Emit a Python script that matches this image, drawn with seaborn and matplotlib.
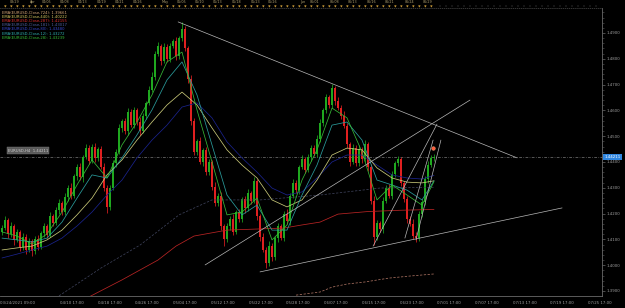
import numpy as np
import pandas as pd
import matplotlib
matplotlib.use("Agg")
import matplotlib.pyplot as plt
import matplotlib.transforms as mtransforms
from matplotlib.ticker import MultipleLocator
import seaborn as sns

# ---------------- data ----------------
closes = [
    1.4144, 1.4175, 1.4120, 1.4150, 1.4098, 1.4130, 1.4070, 1.4110, 1.4060, 1.4095,
    1.4055, 1.4100, 1.4070, 1.4125, 1.4150, 1.4118, 1.4190, 1.4165, 1.4215, 1.4240,
    1.4205, 1.4265, 1.4300, 1.4270, 1.4345, 1.4380, 1.4340, 1.4420, 1.4455, 1.4405,
    1.4460, 1.4415, 1.4450, 1.4380, 1.4300, 1.4225, 1.4300, 1.4395, 1.4440, 1.4530,
    1.4560, 1.4520, 1.4595, 1.4545, 1.4600, 1.4555, 1.4520, 1.4580, 1.4630, 1.4680,
    1.4730, 1.4820, 1.4850, 1.4790, 1.4845, 1.4800, 1.4850, 1.4870, 1.4810, 1.4880,
    1.4915, 1.4840, 1.4720, 1.4560, 1.4440, 1.4480, 1.4400, 1.4445, 1.4360, 1.4400,
    1.4305, 1.4240, 1.4270, 1.4150, 1.4100, 1.4150, 1.4180, 1.4130, 1.4205, 1.4180,
    1.4255, 1.4220, 1.4280, 1.4250, 1.4325, 1.4190, 1.4110, 1.4060, 1.4010, 1.4075,
    1.4030, 1.4105, 1.4150, 1.4105, 1.4200, 1.4170, 1.4270, 1.4320, 1.4290, 1.4380,
    1.4410, 1.4370, 1.4420, 1.4455, 1.4430, 1.4490, 1.4550, 1.4600, 1.4650, 1.4620,
    1.4685, 1.4635, 1.4610, 1.4580, 1.4540, 1.4470, 1.4400, 1.4455, 1.4395, 1.4450,
    1.4410, 1.4470, 1.4380, 1.4250, 1.4110, 1.4165, 1.4140, 1.4250, 1.4300, 1.4270,
    1.4355, 1.4395, 1.4410, 1.4320, 1.4255, 1.4180, 1.4160, 1.4115, 1.4105, 1.4200,
    1.4245, 1.4335, 1.4390, 1.4415, 1.4421,
]
first_open = 1.4129
wick_up_pips = [
    10, 14, 7, 18, 9, 12, 6, 15, 10, 11,
    8, 14, 17, 9, 12, 10, 18, 7, 11, 15,
    9, 14, 10, 19, 7, 12, 16, 9, 14, 11,
    10, 15, 8, 12, 18, 10, 9, 14, 11, 16,
    8, 12, 15, 10, 14, 9, 18, 11, 8, 15,
    20, 10, 14, 9, 16, 11, 12, 8, 15, 10,
    27, 14, 9, 18, 12, 10, 15, 8, 14, 11,
    9, 16, 10, 12, 8, 15, 11, 18, 9, 14,
    10, 12, 16, 8, 15, 11, 9, 14, 10, 18,
    12, 8, 15, 11, 10, 16, 9, 14, 12, 8,
    18, 10, 12, 11, 9, 14, 16, 10, 12, 8,
    19, 9, 15, 10, 18, 12, 8, 14, 11, 16,
    10, 15, 9, 12, 18, 11, 8, 14, 10, 16,
    12, 9, 15, 11, 8, 14, 10, 18, 12, 9,
    11, 10, 14, 12, 9,
]
wick_dn_pips = [
    12, 9, 15, 10, 18, 8, 14, 11, 16, 9,
    20, 10, 12, 9, 15, 11, 8, 14, 10, 16,
    11, 9, 15, 12, 8, 14, 10, 18, 9, 12,
    10, 15, 11, 9, 14, 24, 12, 10, 15, 8,
    14, 10, 16, 9, 12, 11, 15, 8, 14, 10,
    9, 12, 10, 15, 8, 14, 11, 9, 16, 10,
    12, 10, 15, 18, 11, 14, 9, 16, 10, 12,
    15, 11, 9, 14, 27, 10, 15, 12, 8, 14,
    11, 16, 10, 12, 9, 14, 18, 10, 19, 12,
    15, 10, 14, 9, 12, 11, 16, 8, 10, 14,
    9, 12, 10, 15, 8, 11, 14, 9, 12, 10,
    11, 15, 9, 12, 10, 14, 16, 8, 12, 10,
    14, 9, 15, 11, 30, 12, 10, 16, 9, 11,
    12, 15, 10, 14, 11, 18, 9, 12, 15, 10,
    14, 11, 15, 10, 12,
]

# EMA lines sampled every 5 bars (bar index)
ema_bars = [0, 5, 10, 15, 20, 25, 30, 35, 40, 45, 50, 55, 60, 65, 70, 75, 80, 85, 90, 95,
            100, 105, 110, 115, 120, 125, 130, 135, 140, 144]
ema_green = [1.4129, 1.4113, 1.4082, 1.4121, 1.4206, 1.4311, 1.4408, 1.4338, 1.4466, 1.4555,
             1.4660, 1.4788, 1.4826, 1.4602, 1.4400, 1.4195, 1.4206, 1.4260, 1.4098, 1.4156,
             1.4330, 1.4447, 1.4609, 1.4571, 1.4439, 1.4253, 1.4311, 1.4272, 1.4233, 1.4324]
ema_teal = [1.4105, 1.4098, 1.4090, 1.4105, 1.4167, 1.4260, 1.4350, 1.4338, 1.4416, 1.4505,
            1.4602, 1.4718, 1.4788, 1.4660, 1.4466, 1.4272, 1.4195, 1.4233, 1.4136, 1.4136,
            1.4272, 1.4388, 1.4543, 1.4555, 1.4485, 1.4330, 1.4311, 1.4291, 1.4253, 1.4327]
ema_yellow = [1.4059, 1.4067, 1.4074, 1.4098, 1.4136, 1.4195, 1.4260, 1.4350, 1.4408, 1.4485,
              1.4555, 1.4621, 1.4671, 1.4621, 1.4532, 1.4447, 1.4388, 1.4338, 1.4253, 1.4226,
              1.4253, 1.4330, 1.4427, 1.4454, 1.4447, 1.4377, 1.4338, 1.4322, 1.4319, 1.4327]
ema_navy = [1.4028, 1.4043, 1.4059, 1.4074, 1.4105, 1.4152, 1.4206, 1.4272, 1.4330, 1.4416,
            1.4485, 1.4543, 1.4613, 1.4629, 1.4571, 1.4478, 1.4416, 1.4361, 1.4299, 1.4272,
            1.4284, 1.4338, 1.4400, 1.4427, 1.4427, 1.4388, 1.4350, 1.4338, 1.4334, 1.4348]
ema181_bars = [19, 33, 46, 59, 70, 86, 106, 126, 144]
ema181 = [1.3881, 1.3989, 1.4078, 1.4195, 1.4253, 1.4253, 1.4272, 1.4299, 1.4302]
ema287_bars = [29, 40, 52, 58, 64, 75, 94, 100, 106, 112, 122, 133, 144]
ema287 = [1.3877, 1.3943, 1.4020, 1.4074, 1.4113, 1.4136, 1.4144, 1.4156, 1.4167, 1.4198,
          1.4208, 1.4213, 1.4216]
ema724_bars = [98, 106, 110, 115, 121, 129, 136, 144]
ema724 = [1.3884, 1.3896, 1.3915, 1.3927, 1.3935, 1.3950, 1.3958, 1.3966]

# hand-drawn trend lines: (bar0, price0, bar1, price1)
trend_lines = [
    (58.7, 1.4943, 171.7, 1.4416),
    (67.7, 1.4001, 156.0, 1.4640),
    (86.0, 1.3974, 186.7, 1.4222),
    (123.7, 1.4074, 145.0, 1.4547),
    (134.3, 1.4105, 143.7, 1.4485),
    (138.0, 1.4098, 146.3, 1.4485),
]
bid_price = 1.44211
signal_bar, signal_price = 143.7, 1.4456

legend_texts = [
    "EMA(EURUSD,Close,724): 1.39661",
    "EMA(EURUSD,Close,440): 1.40222",
    "EMA(EURUSD,Close,287): 1.42155",
    "EMA(EURUSD,Close,181): 1.43017",
    "EMA(EURUSD,Close,80): 1.43480",
    "EMA(EURUSD,Close,12): 1.43272",
    "EMA(EURUSD,Close,28): 1.43239",
]
legend_colors = ["#d8a878", "#d8c860", "#e03030", "#5060a0", "#3848d0", "#30b0b0", "#38c038"]

bottom_labels = ["04/10 17:00", "04/18 17:00", "04/26 17:00", "05/04 17:00", "05/12 17:00",
                 "05/22 17:00", "05/28 17:00", "06/07 17:00", "06/15 17:00", "06/23 17:00",
                 "07/01 17:00", "07/07 17:00", "07/13 17:00", "07/19 17:00", "07/25 17:00"]
first_label = "03/24/2021 09:00"
top_labels = ["03/29", "Apr", "04/05", "04/08", "04/13", "04/19", "04/21", "04/26", "May",
              "05/05", "05/10", "05/13", "05/18", "05/23", "05/26", "Jun", "06/01", "06/08",
              "06/13", "06/16", "06/21", "06/24", "06/29"]
top_label_px = [15, 33, 47, 65, 83, 102, 120, 138, 165, 182, 200, 218, 237, 256, 273,
                303, 315, 335, 353, 372, 390, 410, 428]
y_ticks = [1.39, 1.40, 1.41, 1.42, 1.43, 1.44, 1.45, 1.46, 1.47, 1.48, 1.49]

# ---------------- style ----------------
sns.set_theme(style="dark", rc={"axes.facecolor": "black", "figure.facecolor": "black",
                                "axes.grid": False})
plt.rcParams["font.family"] = ["DejaVu Sans"]

W, H = 625, 308
fig = plt.figure(figsize=(W / 100, H / 100), dpi=100, facecolor="black")
ax_w = 602
ax = fig.add_axes([0, 12 / H, ax_w / W, 288 / H])
ax.set_facecolor("black")

BAR_PX = 3.0
x_min = -2 / BAR_PX
x_max = (ax_w - 2) / BAR_PX
ax.set_xlim(x_min, x_max)
ax.set_ylim(1.38806, 1.49969)

# candles
c = np.array(closes)
o = np.r_[first_open, c[:-1]]
hi = np.maximum(o, c) + np.array(wick_up_pips) / 1e4
lo = np.minimum(o, c) - np.array(wick_dn_pips) / 1e4
idx = np.arange(len(c))
col = np.where(c >= o, "#1fa81f", "#e02020")
ax.vlines(idx, lo, hi, colors=col, linewidth=0.55, zorder=3)
ax.bar(idx, np.maximum(np.abs(c - o), 0.00012), bottom=np.minimum(o, c), width=0.6,
       color=col, linewidth=0, zorder=3)

# EMA lines via seaborn
def sline(xs, ys, color, ls="-", lw=0.55, z=4):
    df = pd.DataFrame({"bar": xs, "price": ys})
    sns.lineplot(data=df, x="bar", y="price", ax=ax, color=color, linestyle=ls,
                 linewidth=lw, estimator=None, sort=False, zorder=z)

sline(ema724_bars, ema724, "#a87060", ls=(0, (3, 2)))
sline(ema287_bars, ema287, "#b82424")
sline(ema181_bars, ema181, "#3c4058", ls=(0, (3, 2)))
sline(ema_bars, ema_navy, "#1a238c")
sline(ema_bars, ema_yellow, "#c8c878")
sline(ema_bars, ema_teal, "#2a9c9c")
sline(ema_bars, ema_green, "#36b836")

# trend lines
for (b0, p0, b1, p1) in trend_lines:
    ax.plot([b0, b1], [p0, p1], color="#b8b8b8", linewidth=0.5, zorder=5)

# bid line
ax.axhline(bid_price, color="#7a7a7a", linewidth=0.5, linestyle=(0, (4, 2, 1, 2)), zorder=2)
ax.plot([signal_bar], [signal_price], "o", ms=2.6, color="#ff5a3a", mec="#ffb080",
        mew=0.3, zorder=6)

# axes decoration
ax.set_xlabel("")
ax.set_ylabel("")
ax.yaxis.tick_right()
ax.set_yticks(y_ticks)
ax.set_yticklabels([f"{v:.4f}" for v in y_ticks])
ax.yaxis.set_minor_locator(MultipleLocator(0.002))
tick_px = [60 + 37.73 * k for k in range(len(bottom_labels))]
tick_bars = [(p - 2) / BAR_PX for p in tick_px]
ax.set_xticks([x_min + 0.01] + tick_bars)
ax.set_xticklabels([first_label] + bottom_labels, ha="left")
ax.xaxis.set_minor_locator(MultipleLocator(1.4))
ax.tick_params(axis="both", which="major", colors="#6a6a6a", labelcolor="#a0a0a0",
               labelsize=2.8, length=2.2, width=0.5, pad=1.2, direction="out")
ax.tick_params(axis="both", which="minor", colors="#5a5a5a", length=1.2, width=0.4,
               direction="out")
ax.spines["left"].set_visible(False)
for s in ["right", "bottom"]:
    ax.spines[s].set_color("#6a6a6a")
    ax.spines[s].set_linewidth(0.6)
ax.spines["top"].set_color("#4a4a4a")
ax.spines["top"].set_linewidth(0.5)
ax.spines["top"].set_linestyle((0, (1, 2)))

# current price tag
blend = mtransforms.blended_transform_factory(ax.transAxes, ax.transData)
ax.text(1.004, bid_price, f"{bid_price:.5f}", transform=blend, ha="left", va="center",
        fontsize=2.8, color="white", zorder=10,
        bbox=dict(boxstyle="square,pad=0.25", fc="#2f86e0", ec="none"))

# legend text (top-left)
for k, (t, cc) in enumerate(zip(legend_texts, legend_colors)):
    fig.text(2 / W, 1 - (12.5 + 4.25 * k) / H, t, color=cc, fontsize=2.7,
             ha="left", va="center")

# grey label box on the left
fig.text(8 / W, 1 - 150.5 / H, "EURUSD,H4  1.44211", color="#d0d0d0", fontsize=2.7,
         ha="left", va="center",
         bbox=dict(boxstyle="square,pad=0.3", fc="#5a5a5a", ec="#7a7a7a", lw=0.3))

# top time strip (pixel coords)
axt = fig.add_axes([0, 1 - 10 / H, ax_w / W, 10 / H])
axt.set_xlim(0, ax_w)
axt.set_ylim(10, 0)
axt.axis("off")
for lbl, px in zip(top_labels, top_label_px):
    axt.text(px, 1.6, lbl, color="#b0a070", fontsize=2.4, ha="center", va="center")
tri_px = np.arange(5, 437, 6.0)
axt.plot(tri_px, np.full(len(tri_px), 5.6), "v", ms=1.6, color="#c89a38", mew=0)
axt.vlines(tri_px, 4.8, 7.2, color="#c89a38", linewidth=0.35)
rest_px = np.arange(440, 600, 6.0)
axt.vlines(rest_px, 5.0, 7.0, color="#555555", linewidth=0.35)

fig.savefig("out.png", dpi=100, facecolor="black")
